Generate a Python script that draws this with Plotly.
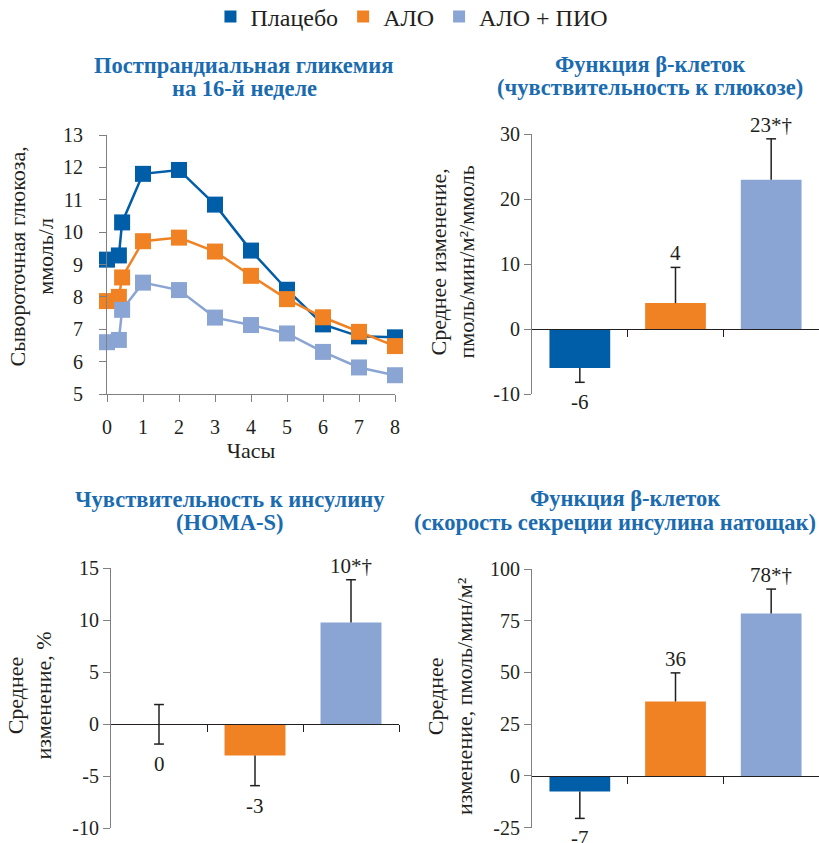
import plotly.graph_objects as go

W, H = 819, 843
SERIF = "Liberation Serif, DejaVu Serif, serif"
TXT = "#231F20"
TITLE_BLUE = "#1A6BAF"

groups = ["Плацебо", "АЛО", "АЛО + ПИО"]
colors = ["#005DA8", "#F08223", "#8AA5D3"]

# Panel 1: postprandial glucose
hours = [0, 0.33, 0.42, 1, 2, 3, 4, 5, 6, 7, 8]
glucose_placebo = [9.15, 9.28, 10.3, 11.8, 11.92, 10.85, 9.43, 8.22, 7.15, 6.78, 6.75]
glucose_alo = [7.87, 8.0, 8.6, 9.72, 9.83, 9.4, 8.65, 7.93, 7.37, 6.92, 6.48]
glucose_alo_pio = [6.6, 6.67, 7.6, 8.44, 8.21, 7.36, 7.13, 6.87, 6.3, 5.82, 5.58]
glucose_series = [glucose_placebo, glucose_alo, glucose_alo_pio]

# Panel 2: beta-cell function (glucose sensitivity)
beta_glu = [-6, 4, 23]
beta_glu_plus = [0, 5.5, 6.3]
beta_glu_minus = [2.2, 0, 0]
beta_glu_labels = ["-6", "4", "23*†"]
beta_glu_ticks = [-10, 0, 10, 20, 30]

# Panel 3: insulin sensitivity (HOMA-S)
homa = [0, -3, 9.8]
homa_plus = [1.9, 0, 4.1]
homa_minus = [1.9, 2.9, 0]
homa_labels = ["0", "-3", "10*†"]
homa_ticks = [-10, -5, 0, 5, 10, 15]

# Panel 4: beta-cell function (fasting insulin secretion rate)
isr = [-7.5, 36, 78.5]
isr_plus = [0, 13.8, 11.8]
isr_minus = [13, 0, 0]
isr_labels = ["-7", "36", "78*†"]
isr_ticks = [-25, 0, 25, 50, 75, 100]

titles = [
    ["Постпрандиальная гликемия", "на 16-й неделе"],
    ["Функция β-клеток", "(чувствительность к глюкозе)"],
    ["Чувствительность к инсулину", "(HOMA-S)"],
    ["Функция β-клеток", "(скорость секреции инсулина натощак)"],
]
ytitles = [
    "Сывороточная глюкоза,<br>ммоль/л",
    "Среднее изменение,<br>пмоль/мин/м²/ммоль",
    "Среднее<br>изменение, %",
    "Среднее<br>изменение, пмоль/мин/м²",
]


def px(x):
    return x / W


def py(y):
    return 1 - y / H


fig = go.Figure()

# ---- line chart ----
for name, ys, c in zip(groups, glucose_series, colors):
    fig.add_trace(go.Scatter(
        x=hours, y=ys, mode="lines+markers", name=name, showlegend=False,
        line=dict(color=c, width=2.5),
        marker=dict(symbol="square", size=16, color=c),
        cliponaxis=False, xaxis="x", yaxis="y"))

# ---- bar charts ----
bar_panels = [
    (2, beta_glu, beta_glu_plus, beta_glu_minus, beta_glu_labels, beta_glu_ticks),
    (3, homa, homa_plus, homa_minus, homa_labels, homa_ticks),
    (4, isr, isr_plus, isr_minus, isr_labels, isr_ticks),
]

domains = {
    1: dict(x=[px(107), px(395)], y=[py(394), py(135)], r=[5, 13]),
    2: dict(x=[px(532), 1.0], y=[py(394), py(134.3)], r=[-10, 30]),
    3: dict(x=[px(111), px(399)], y=[py(828.3), py(568.3)], r=[-10, 15]),
    4: dict(x=[px(532), 1.0], y=[py(827.7), py(569)], r=[-25, 100]),
}

annotations = []

for k, vals, plus, minus, labels, ticks in bar_panels:
    cap_x, cap_y = [], []
    for i, (name, c) in enumerate(zip(groups, colors)):
        fig.add_trace(go.Bar(
            x=[i], y=[vals[i]], name=name, legendgroup=name,
            showlegend=(k == 2), marker=dict(color=c, line=dict(width=0)),
            width=0.635,
            error_y=dict(type="data", symmetric=False, array=[plus[i]],
                         arrayminus=[minus[i]], color=TXT, thickness=1.5, width=0),
            xaxis=f"x{k}", yaxis=f"y{k}"))
        if plus[i] > 0:
            cap_x.append(i)
            cap_y.append(vals[i] + plus[i])
        if minus[i] > 0:
            cap_x.append(i)
            cap_y.append(vals[i] - minus[i])
        if vals[i] > 0:
            annotations.append(dict(
                x=i, y=vals[i] + plus[i], xref=f"x{k}", yref=f"y{k}",
                text=labels[i], showarrow=False, yanchor="bottom", yshift=0,
                font=dict(family=SERIF, size=21, color=TXT)))
        else:
            annotations.append(dict(
                x=i, y=vals[i] - minus[i], xref=f"x{k}", yref=f"y{k}",
                text=labels[i], showarrow=False, yanchor="top", yshift=-6,
                font=dict(family=SERIF, size=21, color=TXT)))
    # error-bar caps at the outer ends only
    fig.add_trace(go.Scatter(
        x=cap_x, y=cap_y, mode="markers", showlegend=False, hoverinfo="skip",
        marker=dict(symbol="line-ew", size=7, color=TXT,
                    line=dict(color=TXT, width=1.5)),
        cliponaxis=False, xaxis=f"x{k}", yaxis=f"y{k}"))

layout = dict(
    width=W, height=H, margin=dict(l=0, r=0, t=0, b=0, autoexpand=False),
    paper_bgcolor="white", plot_bgcolor="white",
    barmode="overlay",
    font=dict(family=SERIF, size=20, color=TXT),
    legend=dict(orientation="h", x=0.503, xanchor="center", y=py(17), yanchor="middle",
                font=dict(family=SERIF, size=24, color=TXT), bgcolor="rgba(0,0,0,0)",
                traceorder="normal", itemwidth=30),
)

# line chart axes
d = domains[1]
layout["xaxis"] = dict(domain=d["x"], range=[0, 8], anchor="y", showline=True,
                       linecolor="#808080", linewidth=1.2, ticks="outside", ticklen=7,
                       tickcolor="#808080", tickvals=list(range(9)), showgrid=False,
                       zeroline=False, ticklabelstandoff=8,
                       tickfont=dict(size=20, family=SERIF, color=TXT),
                       title=dict(text="Часы", standoff=4,
                                  font=dict(size=22, family=SERIF, color=TXT)))
layout["yaxis"] = dict(domain=d["y"], range=d["r"], anchor="x", showline=True,
                       linecolor="#808080", linewidth=1.2, ticks="outside", ticklen=7,
                       tickcolor="#808080", tickvals=list(range(5, 14)), showgrid=False,
                       zeroline=False, ticklabelstandoff=12,
                       tickfont=dict(size=20, family=SERIF, color=TXT))

for k, vals, plus, minus, labels, ticks in bar_panels:
    d = domains[k]
    r0, r1 = d["r"]
    zero_pos = d["y"][0] + (0 - r0) / (r1 - r0) * (d["y"][1] - d["y"][0])
    layout[f"xaxis{k}"] = dict(domain=d["x"], range=[-0.5, 2.5], anchor="free",
                               position=zero_pos, showline=True, linecolor=TXT,
                               linewidth=1.2, ticks="outside", ticklen=7, tickcolor=TXT,
                               tickvals=[0.5, 1.5, 2.5], showticklabels=False,
                               showgrid=False, zeroline=False, fixedrange=True)
    layout[f"yaxis{k}"] = dict(domain=d["y"], range=d["r"], anchor=f"x{k}",
                               showline=True, linecolor="#808080", linewidth=1.2,
                               ticks="outside", ticklen=7, tickcolor="#808080",
                               tickvals=ticks, ticktext=[str(t) for t in ticks],
                               showgrid=False, zeroline=False,
                               tickfont=dict(size=20, family=SERIF, color=TXT))

# panel titles (x, anchor) per line, y centers
title_pos = [
    [(243, "center", 66), (244, "center", 88)],
    [(650, "center", 65), (650, "center", 87)],
    [(230, "center", 499), (229, "center", 522)],
    [(625, "center", 498), (818, "right", 522)],
]
for lines, pos in zip(titles, title_pos):
    for text, (cx, anc, yy) in zip(lines, pos):
        annotations.append(dict(
            x=px(cx), y=py(yy), xref="paper", yref="paper", text=text,
            showarrow=False, xanchor=anc, yanchor="middle",
            font=dict(family=SERIF, size=22.5, color=TITLE_BLUE, weight="bold")))

# y-axis titles
ytitle_pos = [(31.5, 257), (452.5, 262), (29.5, 696), (450, 696)]
for text, (cx, cy) in zip(ytitles, ytitle_pos):
    annotations.append(dict(
        x=px(cx), y=py(cy), xref="paper", yref="paper", text=text,
        showarrow=False, xanchor="center", yanchor="middle", textangle=-90,
        font=dict(family=SERIF, size=22, color=TXT)))

layout["annotations"] = annotations
fig.update_layout(**layout)
fig.write_html(
    "out.html",
    config={"displayModeBar": False},
    post_script="document.body.style.margin='0';document.body.style.overflow='hidden';",
)
